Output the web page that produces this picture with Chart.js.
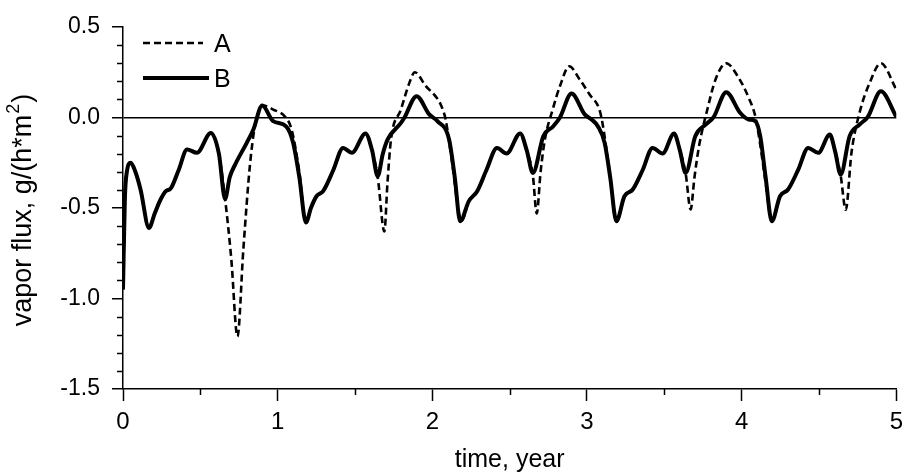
<!DOCTYPE html>
<html>
<head>
<meta charset="utf-8">
<script src="https://cdn.jsdelivr.net/npm/chart.js@4.4.1/dist/chart.umd.min.js"></script>
<style>
    html, body { margin: 0; padding: 0; background: #fff; }
    canvas { display: block; }
</style>
</head>
<body>
<canvas id="fluxChart" width="910" height="475"></canvas>
<script>
// Ticks
const xTicks = [0, 1, 2, 3, 4, 5];
const xMinorTicks = [0.5, 1.5, 2.5, 3.5, 4.5];
const yTicks = [-1.5, -1.0, -0.5, 0.0, 0.5];
const yMinorTicks = [-1.4, -1.3, -1.2, -1.1, -0.9, -0.8, -0.7, -0.6, -0.4, -0.3, -0.2, -0.1, 0.1, 0.2, 0.3, 0.4];

// Series B (solid)
const timeB = [0, 0.012, 0.025, 0.05, 0.08, 0.114, 0.168, 0.205, 0.243, 0.28,
    0.307, 0.36, 0.414, 0.478, 0.568, 0.62, 0.66, 0.69, 0.725, 0.80,
    0.843, 0.90, 0.971, 1.056, 1.10, 1.14, 1.183, 1.215, 1.251, 1.294,
    1.36, 1.423, 1.48, 1.568, 1.61, 1.647, 1.68, 1.712, 1.797, 1.82,
    1.898, 1.98, 2.033, 2.108, 2.145, 2.18, 2.236, 2.29, 2.35, 2.418,
    2.48, 2.568, 2.61, 2.65, 2.718, 2.782, 2.825, 2.90, 2.985, 3.03,
    3.07, 3.114, 3.15, 3.19, 3.242, 3.296, 3.36, 3.424, 3.489, 3.563,
    3.60, 3.638, 3.70, 3.767, 3.82, 3.90, 3.99, 4.045, 4.088, 4.12,
    4.155, 4.195, 4.248, 4.30, 4.365, 4.43, 4.495, 4.57, 4.605, 4.64,
    4.698, 4.762, 4.816, 4.90, 5.0];
const fluxB = [-0.95, -0.45, -0.3, -0.25, -0.3, -0.40, -0.61, -0.53, -0.453, -0.405,
    -0.394, -0.29, -0.177, -0.195, -0.085, -0.2, -0.45, -0.33, -0.26, -0.14,
    -0.066, 0.066, -0.02, -0.05, -0.14, -0.33, -0.58, -0.5, -0.435, -0.407,
    -0.29, -0.168, -0.195, -0.088, -0.18, -0.324, -0.2, -0.12, -0.03, 0.0,
    0.118, 0.017, -0.02, -0.12, -0.33, -0.573, -0.462, -0.407, -0.29, -0.168,
    -0.199, -0.088, -0.18, -0.306, -0.103, -0.048, 0.0, 0.133, 0.017, -0.011,
    -0.048, -0.14, -0.33, -0.573, -0.435, -0.398, -0.29, -0.168, -0.199, -0.088,
    -0.18, -0.306, -0.103, -0.039, 0.004, 0.14, 0.026, -0.011, -0.02, -0.103,
    -0.33, -0.573, -0.435, -0.398, -0.29, -0.168, -0.195, -0.094, -0.19, -0.315,
    -0.103, -0.039, 0.004, 0.145, 0.004];

// Series A (dashed)
const timeA = [0, 0.012, 0.025, 0.05, 0.08, 0.114, 0.168, 0.205, 0.243, 0.28,
    0.307, 0.36, 0.414, 0.478, 0.568, 0.62, 0.66, 0.70, 0.74, 0.778,
    0.82, 0.853, 0.907, 0.971, 1.048, 1.09, 1.14, 1.183, 1.215, 1.251,
    1.294, 1.36, 1.423, 1.48, 1.568, 1.61, 1.647, 1.69, 1.71, 1.733,
    1.797, 1.851, 1.887, 1.958, 2.02, 2.054, 2.086, 2.12, 2.19, 2.236,
    2.29, 2.35, 2.418, 2.48, 2.568, 2.61, 2.65, 2.675, 2.70, 2.728,
    2.778, 2.825, 2.885, 2.953, 3.017, 3.08, 3.10, 3.15, 3.19, 3.242,
    3.296, 3.36, 3.424, 3.489, 3.563, 3.60, 3.638, 3.67, 3.695, 3.724,
    3.778, 3.831, 3.90, 3.98, 4.045, 4.088, 4.12, 4.155, 4.195, 4.248,
    4.30, 4.365, 4.43, 4.495, 4.57, 4.605, 4.64, 4.673, 4.71, 4.762,
    4.827, 4.90, 5.0];
const fluxA = [-0.95, -0.45, -0.3, -0.25, -0.3, -0.40, -0.61, -0.53, -0.453, -0.405,
    -0.394, -0.29, -0.177, -0.195, -0.085, -0.2, -0.45, -0.78, -1.21, -0.73,
    -0.27, -0.048, 0.066, 0.044, 0.004, -0.066, -0.30, -0.58, -0.5, -0.435,
    -0.407, -0.29, -0.168, -0.195, -0.088, -0.18, -0.33, -0.63, -0.36, -0.12,
    0.044, 0.19, 0.25, 0.173, 0.118, 0.072, -0.011, -0.2, -0.57, -0.462,
    -0.407, -0.29, -0.168, -0.199, -0.088, -0.18, -0.32, -0.53, -0.3, -0.12,
    0.044, 0.173, 0.283, 0.21, 0.127, 0.044, -0.03, -0.33, -0.573, -0.435,
    -0.398, -0.29, -0.168, -0.199, -0.088, -0.18, -0.31, -0.508, -0.33, -0.16,
    0.044, 0.21, 0.30, 0.22, 0.11, 0.007, -0.15, -0.36, -0.573, -0.435,
    -0.398, -0.29, -0.168, -0.195, -0.094, -0.19, -0.32, -0.51, -0.195, 0.026,
    0.19, 0.30, 0.155];

const FONT_FAMILY = 'Arial, "Liberation Sans", sans-serif';

// Pair up time and value arrays
function toPoints(times, values) {
    return times.map((t, i) => ({ x: t, y: values[i] }));
}

// Y title with a real superscript, rotated
function drawYTitle(ctx, cx, cy) {
    const main = 'vapor flux, g/(h*m';
    const sup = '2';
    const tail = ')';
    const mainFont = '27px ' + FONT_FAMILY;
    const supFont = '18px ' + FONT_FAMILY;

    ctx.font = mainFont;
    const wMain = ctx.measureText(main).width;
    const wTail = ctx.measureText(tail).width;
    ctx.font = supFont;
    const wSup = ctx.measureText(sup).width;
    const total = wMain + wSup + wTail;

    ctx.save();
    ctx.translate(cx, cy);
    ctx.rotate(-Math.PI / 2);
    ctx.fillStyle = '#000';
    ctx.textBaseline = 'middle';
    ctx.textAlign = 'left';
    let x = -total / 2;
    ctx.font = mainFont;
    ctx.fillText(main, x, 0);
    x += wMain;
    ctx.font = supFont;
    ctx.fillText(sup, x + 1, -10);
    x += wSup + 2;
    ctx.font = mainFont;
    ctx.fillText(tail, x, 0);
    ctx.restore();
}

// Minor ticks, legend and y title, drawn on top
const extrasPlugin = {
    id: 'extras',
    afterDraw(chart) {
        const ctx = chart.ctx;
        const area = chart.chartArea;
        const xs = chart.scales.x;
        const ys = chart.scales.y;

        ctx.save();
        ctx.strokeStyle = '#000';
        ctx.lineWidth = 1.5;
        ctx.beginPath();
        yMinorTicks.forEach(v => {
            const py = Math.round(ys.getPixelForValue(v)) + 0.5;
            ctx.moveTo(area.left - 6, py);
            ctx.lineTo(area.left, py);
        });
        xMinorTicks.forEach(v => {
            const px = Math.round(xs.getPixelForValue(v)) + 0.5;
            ctx.moveTo(px, area.bottom);
            ctx.lineTo(px, area.bottom + 6);
        });
        ctx.stroke();

        // legend
        ctx.lineWidth = 2.6;
        ctx.setLineDash([7, 4]);
        ctx.beginPath();
        ctx.moveTo(143, 43);
        ctx.lineTo(203, 43);
        ctx.stroke();
        ctx.setLineDash([]);
        ctx.lineWidth = 4;
        ctx.beginPath();
        ctx.moveTo(143, 78);
        ctx.lineTo(209, 78);
        ctx.stroke();

        ctx.fillStyle = '#000';
        ctx.font = '25px ' + FONT_FAMILY;
        ctx.textBaseline = 'middle';
        ctx.textAlign = 'left';
        ctx.fillText('A', 214, 45);
        ctx.fillText('B', 214, 80);
        ctx.restore();

        drawYTitle(ctx, 24, 211);
    }
};

function initChart() {
    const canvas = document.getElementById('fluxChart');

    new Chart(canvas, {
        type: 'line',
        data: {
            datasets: [{
                label: 'A',
                data: toPoints(timeA, fluxA),
                borderColor: '#000',
                borderWidth: 2.6,
                borderDash: [7, 4],
                pointRadius: 0,
                fill: false,
                cubicInterpolationMode: 'monotone'
            }, {
                label: 'B',
                data: toPoints(timeB, fluxB),
                borderColor: '#000',
                borderWidth: 4,
                pointRadius: 0,
                fill: false,
                cubicInterpolationMode: 'monotone'
            }]
        },
        options: {
            responsive: false,
            animation: false,
            devicePixelRatio: 1,
            layout: { padding: { top: 27, right: 8, left: 0, bottom: 0 } },
            plugins: {
                legend: { display: false },
                tooltip: { enabled: false }
            },
            scales: {
                x: {
                    type: 'linear',
                    min: 0,
                    max: 5,
                    afterFit: scale => { scale.height = 86; },
                    afterBuildTicks: scale => { scale.ticks = xTicks.map(v => ({ value: v })); },
                    border: { display: true, color: '#000', width: 1.5 },
                    grid: {
                        drawOnChartArea: false,
                        drawTicks: true,
                        tickLength: 12,
                        tickColor: '#000',
                        tickWidth: 1.5
                    },
                    ticks: {
                        color: '#000',
                        padding: 7,
                        font: { family: FONT_FAMILY, size: 24 },
                        callback: v => String(v)
                    },
                    title: {
                        display: true,
                        text: 'time, year',
                        color: '#000',
                        font: { family: FONT_FAMILY, size: 25 },
                        padding: { top: 0, bottom: 0 }
                    }
                },
                y: {
                    type: 'linear',
                    min: -1.5,
                    max: 0.5,
                    afterFit: scale => { scale.width = 123; },
                    afterBuildTicks: scale => { scale.ticks = yTicks.map(v => ({ value: v })); },
                    border: { display: true, color: '#000', width: 1.5 },
                    grid: {
                        drawOnChartArea: true,
                        drawTicks: true,
                        tickLength: 11,
                        tickColor: '#000',
                        tickWidth: 1.5,
                        color: c => (c.tick && c.tick.value === 0 ? '#000' : 'rgba(0,0,0,0)'),
                        lineWidth: 1.5
                    },
                    ticks: {
                        color: '#000',
                        padding: 12,
                        font: { family: FONT_FAMILY, size: 23 },
                        callback: v => v.toFixed(1)
                    }
                }
            }
        },
        plugins: [extrasPlugin]
    });
}

document.addEventListener('DOMContentLoaded', initChart);
</script>
</body>
</html>
